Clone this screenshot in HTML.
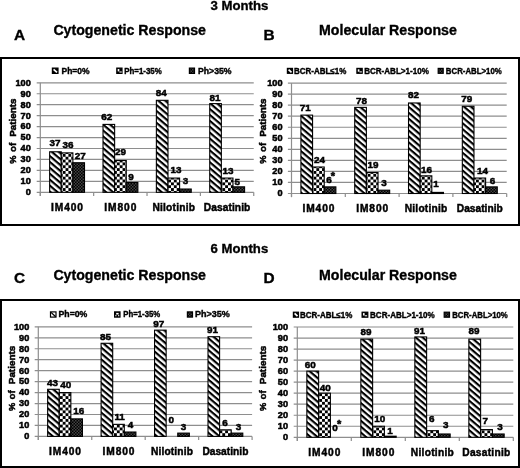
<!DOCTYPE html><html><head><meta charset="utf-8"><style>html,body{margin:0;padding:0;background:#fff;overflow:hidden;width:520px;height:468px;}svg{display:block;position:absolute;left:-4px;top:-4px;filter:blur(0.5px);}</style></head><body>
<svg width="528" height="476" viewBox="-4 -4 528 476" font-family='"Liberation Sans", sans-serif' font-weight="bold">
<defs>
<pattern id="pd" patternUnits="userSpaceOnUse" width="12" height="4.5" patternTransform="rotate(40.4)"><rect width="12" height="4.5" fill="#fff"/><rect y="0" width="12" height="2.15" fill="#000"/></pattern>
<pattern id="pc" patternUnits="userSpaceOnUse" width="5.7" height="5.7"><rect width="5.7" height="5.7" fill="#fff"/><rect width="2.85" height="2.85" fill="#000"/><rect x="2.85" y="2.85" width="2.85" height="2.85" fill="#000"/></pattern>
<pattern id="pk" patternUnits="userSpaceOnUse" width="3" height="3"><rect width="3" height="3" fill="#000"/><rect width="1.5" height="1.5" fill="#444"/><rect x="1.5" y="1.5" width="1.5" height="1.5" fill="#444"/></pattern>
</defs>
<rect x="-4" y="-4" width="528" height="476" fill="#fff"/>
<rect x="1" y="58" width="518" height="167" fill="none" stroke="#000" stroke-width="2"/>
<rect x="1" y="300" width="518" height="167" fill="none" stroke="#000" stroke-width="2"/>
<rect x="-4" y="57" width="4" height="169" fill="#000"/>
<rect x="520" y="57" width="4" height="169" fill="#000"/>
<rect x="-4" y="299" width="4" height="173" fill="#000"/>
<rect x="520" y="299" width="4" height="173" fill="#000"/>
<rect x="-4" y="468" width="528" height="4" fill="#000"/>
<g stroke="#000" stroke-width="0.35">
<text x="210.50" y="9.60" font-size="13.4" textLength="57.80" lengthAdjust="spacingAndGlyphs">3 Months</text>
<text x="210.60" y="253.40" font-size="13.4" textLength="57.60" lengthAdjust="spacingAndGlyphs">6 Months</text>
<text x="13.90" y="39.50" font-size="15.4">A</text>
<text x="263.60" y="39.50" font-size="15.4">B</text>
<text x="13.90" y="283.30" font-size="15.4">C</text>
<text x="263.60" y="283.00" font-size="15.4">D</text>
<text x="53.40" y="34.80" font-size="14" textLength="152.60" lengthAdjust="spacingAndGlyphs">Cytogenetic Response</text>
<text x="319.00" y="35.40" font-size="14" textLength="137.80" lengthAdjust="spacingAndGlyphs">Molecular Response</text>
<text x="53.40" y="280.00" font-size="14" textLength="152.60" lengthAdjust="spacingAndGlyphs">Cytogenetic Response</text>
<text x="319.00" y="279.70" font-size="14" textLength="137.80" lengthAdjust="spacingAndGlyphs">Molecular Response</text>
</g>
<line x1="36.70" y1="192.30" x2="253.74" y2="192.30" stroke="#8e8e8e" stroke-width="1.2"/>
<line x1="36.70" y1="181.35" x2="253.74" y2="181.35" stroke="#8e8e8e" stroke-width="1.2"/>
<line x1="36.70" y1="170.40" x2="253.74" y2="170.40" stroke="#8e8e8e" stroke-width="1.2"/>
<line x1="36.70" y1="159.45" x2="253.74" y2="159.45" stroke="#8e8e8e" stroke-width="1.2"/>
<line x1="36.70" y1="148.50" x2="253.74" y2="148.50" stroke="#8e8e8e" stroke-width="1.2"/>
<line x1="36.70" y1="137.55" x2="253.74" y2="137.55" stroke="#8e8e8e" stroke-width="1.2"/>
<line x1="36.70" y1="126.60" x2="253.74" y2="126.60" stroke="#8e8e8e" stroke-width="1.2"/>
<line x1="36.70" y1="115.65" x2="253.74" y2="115.65" stroke="#8e8e8e" stroke-width="1.2"/>
<line x1="36.70" y1="104.70" x2="253.74" y2="104.70" stroke="#8e8e8e" stroke-width="1.2"/>
<line x1="36.70" y1="93.75" x2="253.74" y2="93.75" stroke="#8e8e8e" stroke-width="1.2"/>
<line x1="36.70" y1="82.80" x2="253.74" y2="82.80" stroke="#8e8e8e" stroke-width="1.2"/>
<line x1="40.30" y1="82.80" x2="40.30" y2="195.90" stroke="#8e8e8e" stroke-width="1.2"/>
<line x1="40.30" y1="192.30" x2="40.30" y2="195.90" stroke="#8e8e8e" stroke-width="1.2"/>
<line x1="93.66" y1="192.30" x2="93.66" y2="195.90" stroke="#8e8e8e" stroke-width="1.2"/>
<line x1="147.02" y1="192.30" x2="147.02" y2="195.90" stroke="#8e8e8e" stroke-width="1.2"/>
<line x1="200.38" y1="192.30" x2="200.38" y2="195.90" stroke="#8e8e8e" stroke-width="1.2"/>
<line x1="253.74" y1="192.30" x2="253.74" y2="195.90" stroke="#8e8e8e" stroke-width="1.2"/>
<rect x="49.65" y="151.78" width="11.62" height="40.52" fill="url(#pd)" stroke="#000" stroke-width="1.1"/>
<rect x="61.27" y="152.88" width="11.62" height="39.42" fill="url(#pc)" stroke="#000" stroke-width="1.1"/>
<rect x="72.89" y="162.74" width="11.62" height="29.57" fill="url(#pk)" stroke="#000" stroke-width="1.1"/>
<rect x="103.01" y="124.41" width="11.62" height="67.89" fill="url(#pd)" stroke="#000" stroke-width="1.1"/>
<rect x="114.63" y="160.55" width="11.62" height="31.76" fill="url(#pc)" stroke="#000" stroke-width="1.1"/>
<rect x="126.25" y="182.45" width="11.62" height="9.86" fill="url(#pk)" stroke="#000" stroke-width="1.1"/>
<rect x="156.37" y="100.32" width="11.62" height="91.98" fill="url(#pd)" stroke="#000" stroke-width="1.1"/>
<rect x="167.99" y="178.06" width="11.62" height="14.24" fill="url(#pc)" stroke="#000" stroke-width="1.1"/>
<rect x="179.61" y="189.02" width="11.62" height="3.29" fill="url(#pk)" stroke="#000" stroke-width="1.1"/>
<rect x="209.73" y="103.60" width="11.62" height="88.70" fill="url(#pd)" stroke="#000" stroke-width="1.1"/>
<rect x="221.35" y="178.06" width="11.62" height="14.24" fill="url(#pc)" stroke="#000" stroke-width="1.1"/>
<rect x="232.97" y="186.83" width="11.62" height="5.48" fill="url(#pk)" stroke="#000" stroke-width="1.1"/>
<g stroke="#000" stroke-width="0.5">
<text x="30.80" y="195.15" font-size="8.7" text-anchor="end" textLength="5.10" lengthAdjust="spacingAndGlyphs">0</text>
<text x="30.80" y="184.20" font-size="8.7" text-anchor="end" textLength="10.21" lengthAdjust="spacingAndGlyphs">10</text>
<text x="30.80" y="173.25" font-size="8.7" text-anchor="end" textLength="10.21" lengthAdjust="spacingAndGlyphs">20</text>
<text x="30.80" y="162.30" font-size="8.7" text-anchor="end" textLength="10.21" lengthAdjust="spacingAndGlyphs">30</text>
<text x="30.80" y="151.35" font-size="8.7" text-anchor="end" textLength="10.21" lengthAdjust="spacingAndGlyphs">40</text>
<text x="30.80" y="140.40" font-size="8.7" text-anchor="end" textLength="10.21" lengthAdjust="spacingAndGlyphs">50</text>
<text x="30.80" y="129.45" font-size="8.7" text-anchor="end" textLength="10.21" lengthAdjust="spacingAndGlyphs">60</text>
<text x="30.80" y="118.50" font-size="8.7" text-anchor="end" textLength="10.21" lengthAdjust="spacingAndGlyphs">70</text>
<text x="30.80" y="107.55" font-size="8.7" text-anchor="end" textLength="10.21" lengthAdjust="spacingAndGlyphs">80</text>
<text x="30.80" y="96.60" font-size="8.7" text-anchor="end" textLength="10.21" lengthAdjust="spacingAndGlyphs">90</text>
<text x="30.80" y="85.65" font-size="8.7" text-anchor="end" textLength="15.31" lengthAdjust="spacingAndGlyphs">100</text>
<text x="55.00" y="146.40" font-size="9.9" text-anchor="middle" stroke-width="0.5">37</text>
<text x="68.00" y="148.20" font-size="9.9" text-anchor="middle" stroke-width="0.5">36</text>
<text x="80.20" y="158.70" font-size="9.9" text-anchor="middle" stroke-width="0.5">27</text>
<text x="66.98" y="211.30" font-size="10.2" text-anchor="middle" textLength="32.00" lengthAdjust="spacing" stroke-width="0.45">IM400</text>
<text x="106.70" y="120.20" font-size="9.9" text-anchor="middle" stroke-width="0.5">62</text>
<text x="120.60" y="155.20" font-size="9.9" text-anchor="middle" stroke-width="0.5">29</text>
<text x="130.95" y="179.90" font-size="9.9" text-anchor="middle" stroke-width="0.5">9</text>
<text x="120.34" y="211.30" font-size="10.2" text-anchor="middle" textLength="32.00" lengthAdjust="spacing" stroke-width="0.45">IM800</text>
<text x="161.30" y="96.10" font-size="9.9" text-anchor="middle" stroke-width="0.5">84</text>
<text x="176.05" y="173.40" font-size="9.9" text-anchor="middle" stroke-width="0.5">13</text>
<text x="185.50" y="184.20" font-size="9.9" text-anchor="middle" stroke-width="0.5">3</text>
<text x="173.70" y="211.30" font-size="10.2" text-anchor="middle" textLength="42.50" lengthAdjust="spacing" stroke-width="0.45">Nilotinib</text>
<text x="215.00" y="101.10" font-size="9.9" text-anchor="middle" stroke-width="0.5">81</text>
<text x="227.95" y="173.90" font-size="9.9" text-anchor="middle" stroke-width="0.5">13</text>
<text x="237.35" y="185.10" font-size="9.9" text-anchor="middle" stroke-width="0.5">5</text>
<text x="227.06" y="211.30" font-size="10.2" text-anchor="middle" textLength="46.50" lengthAdjust="spacing" stroke-width="0.45">Dasatinib</text>
<text transform="translate(15.9,163.70) rotate(-90)" x="0" y="0" font-size="9.9" textLength="8.2" lengthAdjust="spacingAndGlyphs">%</text>
<text transform="translate(15.9,152.00) rotate(-90)" x="0" y="0" font-size="9.9" textLength="9.1" lengthAdjust="spacingAndGlyphs">of</text>
<text transform="translate(15.9,136.80) rotate(-90)" x="0" y="0" font-size="9.9" textLength="38.4" lengthAdjust="spacingAndGlyphs">Patients</text>
</g>
<rect x="52.40" y="68.10" width="5.60" height="5.30" fill="#000" stroke="#000" stroke-width="1.2"/>
<line x1="53.60" y1="69.30" x2="57.00" y2="72.40" stroke="#fff" stroke-width="1.7"/>
<text x="61.55" y="73.70" font-size="8.8" textLength="28.00" lengthAdjust="spacingAndGlyphs" stroke="#000" stroke-width="0.4">Ph=0%</text>
<rect x="116.80" y="68.10" width="5.20" height="5.30" fill="#000" stroke="#000" stroke-width="1.2"/>
<rect x="117.70" y="69.00" width="1.6" height="2.4" fill="#fff"/><rect x="119.40" y="71.50" width="2.4" height="1.0" fill="#fff"/>
<text x="124.25" y="73.70" font-size="8.8" textLength="37.40" lengthAdjust="spacingAndGlyphs" stroke="#000" stroke-width="0.4">Ph=1-35%</text>
<rect x="189.40" y="68.10" width="5.10" height="5.30" fill="url(#pk)" stroke="#000" stroke-width="1.2"/>
<text x="198.05" y="73.70" font-size="8.8" textLength="33.50" lengthAdjust="spacingAndGlyphs" stroke="#000" stroke-width="0.4">Ph>35%</text>
<line x1="287.90" y1="193.50" x2="506.70" y2="193.50" stroke="#8e8e8e" stroke-width="1.2"/>
<line x1="287.90" y1="182.46" x2="506.70" y2="182.46" stroke="#8e8e8e" stroke-width="1.2"/>
<line x1="287.90" y1="171.42" x2="506.70" y2="171.42" stroke="#8e8e8e" stroke-width="1.2"/>
<line x1="287.90" y1="160.38" x2="506.70" y2="160.38" stroke="#8e8e8e" stroke-width="1.2"/>
<line x1="287.90" y1="149.34" x2="506.70" y2="149.34" stroke="#8e8e8e" stroke-width="1.2"/>
<line x1="287.90" y1="138.30" x2="506.70" y2="138.30" stroke="#8e8e8e" stroke-width="1.2"/>
<line x1="287.90" y1="127.26" x2="506.70" y2="127.26" stroke="#8e8e8e" stroke-width="1.2"/>
<line x1="287.90" y1="116.22" x2="506.70" y2="116.22" stroke="#8e8e8e" stroke-width="1.2"/>
<line x1="287.90" y1="105.18" x2="506.70" y2="105.18" stroke="#8e8e8e" stroke-width="1.2"/>
<line x1="287.90" y1="94.14" x2="506.70" y2="94.14" stroke="#8e8e8e" stroke-width="1.2"/>
<line x1="287.90" y1="83.10" x2="506.70" y2="83.10" stroke="#8e8e8e" stroke-width="1.2"/>
<line x1="291.50" y1="83.10" x2="291.50" y2="197.10" stroke="#8e8e8e" stroke-width="1.2"/>
<line x1="291.50" y1="193.50" x2="291.50" y2="197.10" stroke="#8e8e8e" stroke-width="1.2"/>
<line x1="345.30" y1="193.50" x2="345.30" y2="197.10" stroke="#8e8e8e" stroke-width="1.2"/>
<line x1="399.10" y1="193.50" x2="399.10" y2="197.10" stroke="#8e8e8e" stroke-width="1.2"/>
<line x1="452.90" y1="193.50" x2="452.90" y2="197.10" stroke="#8e8e8e" stroke-width="1.2"/>
<line x1="506.70" y1="193.50" x2="506.70" y2="197.10" stroke="#8e8e8e" stroke-width="1.2"/>
<rect x="300.92" y="115.12" width="11.65" height="78.38" fill="url(#pd)" stroke="#000" stroke-width="1.1"/>
<rect x="312.57" y="167.00" width="11.65" height="26.50" fill="url(#pc)" stroke="#000" stroke-width="1.1"/>
<rect x="324.22" y="186.88" width="11.65" height="6.62" fill="url(#pk)" stroke="#000" stroke-width="1.1"/>
<rect x="354.72" y="107.39" width="11.65" height="86.11" fill="url(#pd)" stroke="#000" stroke-width="1.1"/>
<rect x="366.37" y="172.52" width="11.65" height="20.98" fill="url(#pc)" stroke="#000" stroke-width="1.1"/>
<rect x="378.02" y="190.19" width="11.65" height="3.31" fill="url(#pk)" stroke="#000" stroke-width="1.1"/>
<rect x="408.52" y="102.97" width="11.65" height="90.53" fill="url(#pd)" stroke="#000" stroke-width="1.1"/>
<rect x="420.17" y="175.84" width="11.65" height="17.66" fill="url(#pc)" stroke="#000" stroke-width="1.1"/>
<rect x="431.82" y="192.40" width="11.65" height="1.10" fill="url(#pk)" stroke="#000" stroke-width="1.1"/>
<rect x="462.32" y="106.28" width="11.65" height="87.22" fill="url(#pd)" stroke="#000" stroke-width="1.1"/>
<rect x="473.97" y="178.04" width="11.65" height="15.46" fill="url(#pc)" stroke="#000" stroke-width="1.1"/>
<rect x="485.62" y="186.88" width="11.65" height="6.62" fill="url(#pk)" stroke="#000" stroke-width="1.1"/>
<g stroke="#000" stroke-width="0.5">
<text x="282.50" y="196.35" font-size="8.7" text-anchor="end" textLength="5.10" lengthAdjust="spacingAndGlyphs">0</text>
<text x="282.50" y="185.31" font-size="8.7" text-anchor="end" textLength="10.21" lengthAdjust="spacingAndGlyphs">10</text>
<text x="282.50" y="174.27" font-size="8.7" text-anchor="end" textLength="10.21" lengthAdjust="spacingAndGlyphs">20</text>
<text x="282.50" y="163.23" font-size="8.7" text-anchor="end" textLength="10.21" lengthAdjust="spacingAndGlyphs">30</text>
<text x="282.50" y="152.19" font-size="8.7" text-anchor="end" textLength="10.21" lengthAdjust="spacingAndGlyphs">40</text>
<text x="282.50" y="141.15" font-size="8.7" text-anchor="end" textLength="10.21" lengthAdjust="spacingAndGlyphs">50</text>
<text x="282.50" y="130.11" font-size="8.7" text-anchor="end" textLength="10.21" lengthAdjust="spacingAndGlyphs">60</text>
<text x="282.50" y="119.07" font-size="8.7" text-anchor="end" textLength="10.21" lengthAdjust="spacingAndGlyphs">70</text>
<text x="282.50" y="108.03" font-size="8.7" text-anchor="end" textLength="10.21" lengthAdjust="spacingAndGlyphs">80</text>
<text x="282.50" y="96.99" font-size="8.7" text-anchor="end" textLength="10.21" lengthAdjust="spacingAndGlyphs">90</text>
<text x="282.50" y="85.95" font-size="8.7" text-anchor="end" textLength="15.31" lengthAdjust="spacingAndGlyphs">100</text>
<text x="305.30" y="110.80" font-size="9.9" text-anchor="middle" stroke-width="0.5">71</text>
<text x="319.50" y="163.40" font-size="9.9" text-anchor="middle" stroke-width="0.5">24</text>
<text x="329.05" y="182.90" font-size="9.9" text-anchor="middle" stroke-width="0.5">6</text>
<text x="332.95" y="179.70" font-size="11" text-anchor="middle">*</text>
<text x="318.40" y="212.10" font-size="10.2" text-anchor="middle" textLength="32.00" lengthAdjust="spacing" stroke-width="0.45">IM400</text>
<text x="361.55" y="103.50" font-size="9.9" text-anchor="middle" stroke-width="0.5">78</text>
<text x="373.00" y="168.10" font-size="9.9" text-anchor="middle" stroke-width="0.5">19</text>
<text x="383.90" y="186.10" font-size="9.9" text-anchor="middle" stroke-width="0.5">3</text>
<text x="372.20" y="212.10" font-size="10.2" text-anchor="middle" textLength="32.00" lengthAdjust="spacing" stroke-width="0.45">IM800</text>
<text x="413.50" y="97.70" font-size="9.9" text-anchor="middle" stroke-width="0.5">82</text>
<text x="426.55" y="173.30" font-size="9.9" text-anchor="middle" stroke-width="0.5">16</text>
<text x="436.05" y="187.30" font-size="9.9" text-anchor="middle" stroke-width="0.5">1</text>
<text x="426.00" y="212.10" font-size="10.2" text-anchor="middle" textLength="42.50" lengthAdjust="spacing" stroke-width="0.45">Nilotinib</text>
<text x="466.65" y="102.30" font-size="9.9" text-anchor="middle" stroke-width="0.5">79</text>
<text x="482.60" y="174.10" font-size="9.9" text-anchor="middle" stroke-width="0.5">14</text>
<text x="492.55" y="183.80" font-size="9.9" text-anchor="middle" stroke-width="0.5">6</text>
<text x="479.80" y="212.10" font-size="10.2" text-anchor="middle" textLength="46.00" lengthAdjust="spacing" stroke-width="0.45">Dasatinib</text>
<text transform="translate(266.4,163.70) rotate(-90)" x="0" y="0" font-size="9.9" textLength="8.2" lengthAdjust="spacingAndGlyphs">%</text>
<text transform="translate(266.4,152.00) rotate(-90)" x="0" y="0" font-size="9.9" textLength="9.1" lengthAdjust="spacingAndGlyphs">of</text>
<text transform="translate(266.4,136.80) rotate(-90)" x="0" y="0" font-size="9.9" textLength="38.4" lengthAdjust="spacingAndGlyphs">Patients</text>
</g>
<rect x="287.40" y="68.40" width="5.10" height="4.90" fill="#000" stroke="#000" stroke-width="1.2"/>
<line x1="288.60" y1="69.60" x2="291.50" y2="72.30" stroke="#fff" stroke-width="1.7"/>
<text x="293.95" y="73.60" font-size="8.8" textLength="52.30" lengthAdjust="spacingAndGlyphs" stroke="#000" stroke-width="0.4">BCR-ABL≤1%</text>
<rect x="356.90" y="68.40" width="5.30" height="4.90" fill="#000" stroke="#000" stroke-width="1.2"/>
<rect x="357.80" y="69.30" width="1.6" height="2.4" fill="#fff"/><rect x="359.50" y="71.40" width="2.4" height="1.0" fill="#fff"/>
<text x="364.15" y="73.60" font-size="8.8" textLength="64.70" lengthAdjust="spacingAndGlyphs" stroke="#000" stroke-width="0.4">BCR-ABL>1-10%</text>
<rect x="438.20" y="68.40" width="5.00" height="4.90" fill="url(#pk)" stroke="#000" stroke-width="1.2"/>
<text x="445.85" y="73.60" font-size="8.8" textLength="55.90" lengthAdjust="spacingAndGlyphs" stroke="#000" stroke-width="0.4">BCR-ABL>10%</text>
<line x1="34.70" y1="436.40" x2="252.10" y2="436.40" stroke="#8e8e8e" stroke-width="1.2"/>
<line x1="34.70" y1="425.44" x2="252.10" y2="425.44" stroke="#8e8e8e" stroke-width="1.2"/>
<line x1="34.70" y1="414.49" x2="252.10" y2="414.49" stroke="#8e8e8e" stroke-width="1.2"/>
<line x1="34.70" y1="403.53" x2="252.10" y2="403.53" stroke="#8e8e8e" stroke-width="1.2"/>
<line x1="34.70" y1="392.58" x2="252.10" y2="392.58" stroke="#8e8e8e" stroke-width="1.2"/>
<line x1="34.70" y1="381.62" x2="252.10" y2="381.62" stroke="#8e8e8e" stroke-width="1.2"/>
<line x1="34.70" y1="370.67" x2="252.10" y2="370.67" stroke="#8e8e8e" stroke-width="1.2"/>
<line x1="34.70" y1="359.72" x2="252.10" y2="359.72" stroke="#8e8e8e" stroke-width="1.2"/>
<line x1="34.70" y1="348.76" x2="252.10" y2="348.76" stroke="#8e8e8e" stroke-width="1.2"/>
<line x1="34.70" y1="337.81" x2="252.10" y2="337.81" stroke="#8e8e8e" stroke-width="1.2"/>
<line x1="34.70" y1="326.85" x2="252.10" y2="326.85" stroke="#8e8e8e" stroke-width="1.2"/>
<line x1="38.30" y1="326.85" x2="38.30" y2="440.00" stroke="#8e8e8e" stroke-width="1.2"/>
<line x1="38.30" y1="436.40" x2="38.30" y2="440.00" stroke="#8e8e8e" stroke-width="1.2"/>
<line x1="91.75" y1="436.40" x2="91.75" y2="440.00" stroke="#8e8e8e" stroke-width="1.2"/>
<line x1="145.20" y1="436.40" x2="145.20" y2="440.00" stroke="#8e8e8e" stroke-width="1.2"/>
<line x1="198.65" y1="436.40" x2="198.65" y2="440.00" stroke="#8e8e8e" stroke-width="1.2"/>
<line x1="252.10" y1="436.40" x2="252.10" y2="440.00" stroke="#8e8e8e" stroke-width="1.2"/>
<rect x="47.65" y="389.29" width="11.60" height="47.11" fill="url(#pd)" stroke="#000" stroke-width="1.1"/>
<rect x="59.25" y="392.58" width="11.60" height="43.82" fill="url(#pc)" stroke="#000" stroke-width="1.1"/>
<rect x="70.85" y="418.87" width="11.60" height="17.53" fill="url(#pk)" stroke="#000" stroke-width="1.1"/>
<rect x="101.10" y="343.28" width="11.60" height="93.12" fill="url(#pd)" stroke="#000" stroke-width="1.1"/>
<rect x="112.70" y="424.35" width="11.60" height="12.05" fill="url(#pc)" stroke="#000" stroke-width="1.1"/>
<rect x="124.30" y="432.02" width="11.60" height="4.38" fill="url(#pk)" stroke="#000" stroke-width="1.1"/>
<rect x="154.55" y="330.14" width="11.60" height="106.26" fill="url(#pd)" stroke="#000" stroke-width="1.1"/>
<rect x="177.75" y="433.11" width="11.60" height="3.29" fill="url(#pk)" stroke="#000" stroke-width="1.1"/>
<rect x="208.00" y="336.71" width="11.60" height="99.69" fill="url(#pd)" stroke="#000" stroke-width="1.1"/>
<rect x="219.60" y="429.83" width="11.60" height="6.57" fill="url(#pc)" stroke="#000" stroke-width="1.1"/>
<rect x="231.20" y="433.11" width="11.60" height="3.29" fill="url(#pk)" stroke="#000" stroke-width="1.1"/>
<g stroke="#000" stroke-width="0.5">
<text x="29.30" y="439.25" font-size="8.7" text-anchor="end" textLength="5.10" lengthAdjust="spacingAndGlyphs">0</text>
<text x="29.30" y="428.30" font-size="8.7" text-anchor="end" textLength="10.21" lengthAdjust="spacingAndGlyphs">10</text>
<text x="29.30" y="417.34" font-size="8.7" text-anchor="end" textLength="10.21" lengthAdjust="spacingAndGlyphs">20</text>
<text x="29.30" y="406.38" font-size="8.7" text-anchor="end" textLength="10.21" lengthAdjust="spacingAndGlyphs">30</text>
<text x="29.30" y="395.43" font-size="8.7" text-anchor="end" textLength="10.21" lengthAdjust="spacingAndGlyphs">40</text>
<text x="29.30" y="384.48" font-size="8.7" text-anchor="end" textLength="10.21" lengthAdjust="spacingAndGlyphs">50</text>
<text x="29.30" y="373.52" font-size="8.7" text-anchor="end" textLength="10.21" lengthAdjust="spacingAndGlyphs">60</text>
<text x="29.30" y="362.57" font-size="8.7" text-anchor="end" textLength="10.21" lengthAdjust="spacingAndGlyphs">70</text>
<text x="29.30" y="351.61" font-size="8.7" text-anchor="end" textLength="10.21" lengthAdjust="spacingAndGlyphs">80</text>
<text x="29.30" y="340.66" font-size="8.7" text-anchor="end" textLength="10.21" lengthAdjust="spacingAndGlyphs">90</text>
<text x="29.30" y="329.70" font-size="8.7" text-anchor="end" textLength="15.31" lengthAdjust="spacingAndGlyphs">100</text>
<text x="52.60" y="386.40" font-size="9.9" text-anchor="middle" stroke-width="0.5">43</text>
<text x="65.70" y="388.10" font-size="9.9" text-anchor="middle" stroke-width="0.5">40</text>
<text x="78.75" y="414.00" font-size="9.9" text-anchor="middle" stroke-width="0.5">16</text>
<text x="65.03" y="454.90" font-size="10.2" text-anchor="middle" textLength="32.00" lengthAdjust="spacing" stroke-width="0.45">IM400</text>
<text x="105.40" y="340.00" font-size="9.9" text-anchor="middle" stroke-width="0.5">85</text>
<text x="119.65" y="420.40" font-size="9.9" text-anchor="middle" stroke-width="0.5">11</text>
<text x="130.55" y="428.10" font-size="9.9" text-anchor="middle" stroke-width="0.5">4</text>
<text x="118.47" y="454.90" font-size="10.2" text-anchor="middle" textLength="32.00" lengthAdjust="spacing" stroke-width="0.45">IM800</text>
<text x="158.65" y="327.10" font-size="9.9" text-anchor="middle" stroke-width="0.5">97</text>
<text x="171.25" y="423.10" font-size="9.9" text-anchor="middle" stroke-width="0.5">0</text>
<text x="183.40" y="430.00" font-size="9.9" text-anchor="middle" stroke-width="0.5">3</text>
<text x="171.92" y="454.90" font-size="10.2" text-anchor="middle" textLength="42.00" lengthAdjust="spacing" stroke-width="0.45">Nilotinib</text>
<text x="212.50" y="333.40" font-size="9.9" text-anchor="middle" stroke-width="0.5">91</text>
<text x="225.00" y="425.80" font-size="9.9" text-anchor="middle" stroke-width="0.5">6</text>
<text x="238.40" y="430.40" font-size="9.9" text-anchor="middle" stroke-width="0.5">3</text>
<text x="225.38" y="454.90" font-size="10.2" text-anchor="middle" textLength="46.00" lengthAdjust="spacing" stroke-width="0.45">Dasatinib</text>
<text transform="translate(15.1,411.10) rotate(-90)" x="0" y="0" font-size="9.9" textLength="8.2" lengthAdjust="spacingAndGlyphs">%</text>
<text transform="translate(15.1,399.40) rotate(-90)" x="0" y="0" font-size="9.9" textLength="9.1" lengthAdjust="spacingAndGlyphs">of</text>
<text transform="translate(15.1,384.20) rotate(-90)" x="0" y="0" font-size="9.9" textLength="38.4" lengthAdjust="spacingAndGlyphs">Patients</text>
</g>
<rect x="50.50" y="311.90" width="5.50" height="5.20" fill="#fff" stroke="#000" stroke-width="1.2"/>
<line x1="51.00" y1="312.40" x2="55.70" y2="316.80" stroke="#000" stroke-width="1.3"/>
<text x="58.55" y="317.40" font-size="8.8" textLength="28.80" lengthAdjust="spacingAndGlyphs" stroke="#000" stroke-width="0.4">Ph=0%</text>
<rect x="114.60" y="311.90" width="5.40" height="5.20" fill="#000" stroke="#000" stroke-width="1.2"/>
<rect x="116.20" y="312.90" width="2.4" height="1.6" fill="#fff"/><rect x="115.40" y="314.90" width="1.0" height="1.4" fill="#fff"/><rect x="118.20" y="314.90" width="1.0" height="1.4" fill="#fff"/>
<text x="123.30" y="317.40" font-size="8.8" textLength="36.90" lengthAdjust="spacingAndGlyphs" stroke="#000" stroke-width="0.4">Ph=1-35%</text>
<rect x="187.40" y="311.90" width="5.10" height="5.20" fill="url(#pk)" stroke="#000" stroke-width="1.2"/>
<text x="195.05" y="317.40" font-size="8.8" textLength="34.80" lengthAdjust="spacingAndGlyphs" stroke="#000" stroke-width="0.4">Ph>35%</text>
<line x1="293.70" y1="437.30" x2="513.30" y2="437.30" stroke="#8e8e8e" stroke-width="1.2"/>
<line x1="293.70" y1="426.27" x2="513.30" y2="426.27" stroke="#8e8e8e" stroke-width="1.2"/>
<line x1="293.70" y1="415.24" x2="513.30" y2="415.24" stroke="#8e8e8e" stroke-width="1.2"/>
<line x1="293.70" y1="404.21" x2="513.30" y2="404.21" stroke="#8e8e8e" stroke-width="1.2"/>
<line x1="293.70" y1="393.18" x2="513.30" y2="393.18" stroke="#8e8e8e" stroke-width="1.2"/>
<line x1="293.70" y1="382.15" x2="513.30" y2="382.15" stroke="#8e8e8e" stroke-width="1.2"/>
<line x1="293.70" y1="371.12" x2="513.30" y2="371.12" stroke="#8e8e8e" stroke-width="1.2"/>
<line x1="293.70" y1="360.09" x2="513.30" y2="360.09" stroke="#8e8e8e" stroke-width="1.2"/>
<line x1="293.70" y1="349.06" x2="513.30" y2="349.06" stroke="#8e8e8e" stroke-width="1.2"/>
<line x1="293.70" y1="338.03" x2="513.30" y2="338.03" stroke="#8e8e8e" stroke-width="1.2"/>
<line x1="293.70" y1="327.00" x2="513.30" y2="327.00" stroke="#8e8e8e" stroke-width="1.2"/>
<line x1="297.30" y1="327.00" x2="297.30" y2="440.90" stroke="#8e8e8e" stroke-width="1.2"/>
<line x1="297.30" y1="437.30" x2="297.30" y2="440.90" stroke="#8e8e8e" stroke-width="1.2"/>
<line x1="351.30" y1="437.30" x2="351.30" y2="440.90" stroke="#8e8e8e" stroke-width="1.2"/>
<line x1="405.30" y1="437.30" x2="405.30" y2="440.90" stroke="#8e8e8e" stroke-width="1.2"/>
<line x1="459.30" y1="437.30" x2="459.30" y2="440.90" stroke="#8e8e8e" stroke-width="1.2"/>
<line x1="513.30" y1="437.30" x2="513.30" y2="440.90" stroke="#8e8e8e" stroke-width="1.2"/>
<rect x="306.85" y="371.12" width="11.77" height="66.18" fill="url(#pd)" stroke="#000" stroke-width="1.1"/>
<rect x="318.62" y="393.18" width="11.77" height="44.12" fill="url(#pc)" stroke="#000" stroke-width="1.1"/>
<rect x="360.85" y="339.13" width="11.77" height="98.17" fill="url(#pd)" stroke="#000" stroke-width="1.1"/>
<rect x="372.62" y="426.27" width="11.77" height="11.03" fill="url(#pc)" stroke="#000" stroke-width="1.1"/>
<rect x="384.39" y="436.20" width="11.77" height="1.10" fill="url(#pk)" stroke="#000" stroke-width="1.1"/>
<rect x="414.85" y="336.93" width="11.77" height="100.37" fill="url(#pd)" stroke="#000" stroke-width="1.1"/>
<rect x="426.62" y="430.68" width="11.77" height="6.62" fill="url(#pc)" stroke="#000" stroke-width="1.1"/>
<rect x="438.39" y="433.99" width="11.77" height="3.31" fill="url(#pk)" stroke="#000" stroke-width="1.1"/>
<rect x="468.85" y="339.13" width="11.77" height="98.17" fill="url(#pd)" stroke="#000" stroke-width="1.1"/>
<rect x="480.62" y="429.58" width="11.77" height="7.72" fill="url(#pc)" stroke="#000" stroke-width="1.1"/>
<rect x="492.39" y="433.99" width="11.77" height="3.31" fill="url(#pk)" stroke="#000" stroke-width="1.1"/>
<g stroke="#000" stroke-width="0.5">
<text x="288.00" y="440.15" font-size="8.7" text-anchor="end" textLength="5.10" lengthAdjust="spacingAndGlyphs">0</text>
<text x="288.00" y="429.12" font-size="8.7" text-anchor="end" textLength="10.21" lengthAdjust="spacingAndGlyphs">10</text>
<text x="288.00" y="418.09" font-size="8.7" text-anchor="end" textLength="10.21" lengthAdjust="spacingAndGlyphs">20</text>
<text x="288.00" y="407.06" font-size="8.7" text-anchor="end" textLength="10.21" lengthAdjust="spacingAndGlyphs">30</text>
<text x="288.00" y="396.03" font-size="8.7" text-anchor="end" textLength="10.21" lengthAdjust="spacingAndGlyphs">40</text>
<text x="288.00" y="385.00" font-size="8.7" text-anchor="end" textLength="10.21" lengthAdjust="spacingAndGlyphs">50</text>
<text x="288.00" y="373.97" font-size="8.7" text-anchor="end" textLength="10.21" lengthAdjust="spacingAndGlyphs">60</text>
<text x="288.00" y="362.94" font-size="8.7" text-anchor="end" textLength="10.21" lengthAdjust="spacingAndGlyphs">70</text>
<text x="288.00" y="351.91" font-size="8.7" text-anchor="end" textLength="10.21" lengthAdjust="spacingAndGlyphs">80</text>
<text x="288.00" y="340.88" font-size="8.7" text-anchor="end" textLength="10.21" lengthAdjust="spacingAndGlyphs">90</text>
<text x="288.00" y="329.85" font-size="8.7" text-anchor="end" textLength="15.31" lengthAdjust="spacingAndGlyphs">100</text>
<text x="310.15" y="367.60" font-size="9.9" text-anchor="middle" stroke-width="0.5">60</text>
<text x="325.30" y="391.10" font-size="9.9" text-anchor="middle" stroke-width="0.5">40</text>
<text x="334.90" y="430.80" font-size="9.9" text-anchor="middle" stroke-width="0.5">0</text>
<text x="339.10" y="427.70" font-size="11" text-anchor="middle">*</text>
<text x="324.30" y="456.10" font-size="10.2" text-anchor="middle" textLength="32.00" lengthAdjust="spacing" stroke-width="0.45">IM400</text>
<text x="366.05" y="335.40" font-size="9.9" text-anchor="middle" stroke-width="0.5">89</text>
<text x="379.70" y="422.30" font-size="9.9" text-anchor="middle" stroke-width="0.5">10</text>
<text x="390.00" y="433.50" font-size="9.9" text-anchor="middle" stroke-width="0.5">1</text>
<text x="378.30" y="456.10" font-size="10.2" text-anchor="middle" textLength="32.00" lengthAdjust="spacing" stroke-width="0.45">IM800</text>
<text x="419.50" y="333.80" font-size="9.9" text-anchor="middle" stroke-width="0.5">91</text>
<text x="431.75" y="422.40" font-size="9.9" text-anchor="middle" stroke-width="0.5">6</text>
<text x="445.75" y="428.20" font-size="9.9" text-anchor="middle" stroke-width="0.5">3</text>
<text x="432.30" y="456.10" font-size="10.2" text-anchor="middle" textLength="43.00" lengthAdjust="spacing" stroke-width="0.45">Nilotinib</text>
<text x="474.10" y="333.80" font-size="9.9" text-anchor="middle" stroke-width="0.5">89</text>
<text x="485.30" y="423.80" font-size="9.9" text-anchor="middle" stroke-width="0.5">7</text>
<text x="500.00" y="430.00" font-size="9.9" text-anchor="middle" stroke-width="0.5">3</text>
<text x="486.30" y="456.10" font-size="10.2" text-anchor="middle" textLength="48.00" lengthAdjust="spacing" stroke-width="0.45">Dasatinib</text>
<text transform="translate(266.4,411.10) rotate(-90)" x="0" y="0" font-size="9.9" textLength="8.2" lengthAdjust="spacingAndGlyphs">%</text>
<text transform="translate(266.4,399.40) rotate(-90)" x="0" y="0" font-size="9.9" textLength="9.1" lengthAdjust="spacingAndGlyphs">of</text>
<text transform="translate(266.4,384.20) rotate(-90)" x="0" y="0" font-size="9.9" textLength="38.4" lengthAdjust="spacingAndGlyphs">Patients</text>
</g>
<rect x="293.40" y="312.20" width="5.10" height="5.00" fill="#000" stroke="#000" stroke-width="1.2"/>
<line x1="294.60" y1="313.40" x2="297.50" y2="316.20" stroke="#fff" stroke-width="1.7"/>
<text x="299.95" y="317.50" font-size="8.8" textLength="52.30" lengthAdjust="spacingAndGlyphs" stroke="#000" stroke-width="0.4">BCR-ABL≤1%</text>
<rect x="362.10" y="312.20" width="5.70" height="5.00" fill="#000" stroke="#000" stroke-width="1.2"/>
<rect x="363.00" y="313.10" width="1.6" height="2.4" fill="#fff"/><rect x="364.70" y="315.30" width="2.4" height="1.0" fill="#fff"/>
<text x="370.05" y="317.50" font-size="8.8" textLength="64.60" lengthAdjust="spacingAndGlyphs" stroke="#000" stroke-width="0.4">BCR-ABL>1-10%</text>
<rect x="444.20" y="312.20" width="5.30" height="5.00" fill="url(#pk)" stroke="#000" stroke-width="1.2"/>
<text x="452.25" y="317.50" font-size="8.8" textLength="55.50" lengthAdjust="spacingAndGlyphs" stroke="#000" stroke-width="0.4">BCR-ABL>10%</text>
</svg></body></html>
